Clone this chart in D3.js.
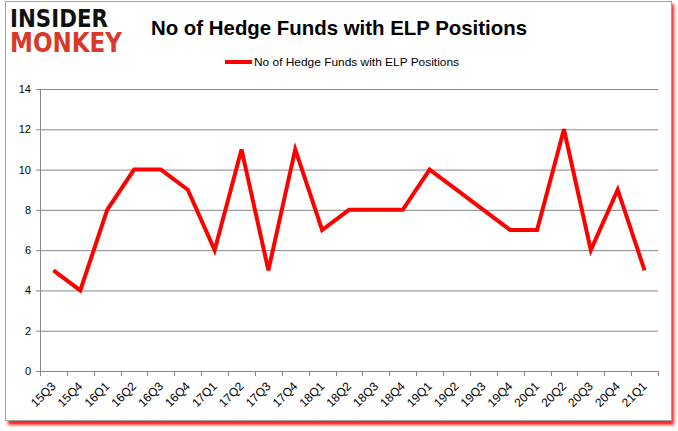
<!DOCTYPE html>
<html>
<head>
<meta charset="utf-8">
<script src="https://cdn.jsdelivr.net/npm/d3@7"></script>
<style>
  body { margin: 0; background: #fff; }
  svg text { font-family: "Liberation Sans", Arial, sans-serif; }
</style>
</head>
<body>
<div id="chart"></div>
<script>
const quarters = ["15Q3", "15Q4", "16Q1", "16Q2", "16Q3", "16Q4", "17Q1", "17Q2", "17Q3", "17Q4",
  "18Q1", "18Q2", "18Q3", "18Q4", "19Q1", "19Q2", "19Q3", "19Q4", "20Q1", "20Q2", "20Q3", "20Q4", "21Q1"];
const fundCounts = [5, 4, 8, 10, 10, 9, 6, 11, 5, 11, 7, 8, 8, 8, 10, 9, 8, 7, 7, 12, 6, 9, 5];
const yTicks = [0, 2, 4, 6, 8, 10, 12, 14];
const seriesName = "No of Hedge Funds with ELP Positions";

const width = 678, height = 431;
const plot = { left: 40, right: 658, top: 89, bottom: 371 };

const svg = d3.select('#chart').append('svg')
  .attr('width', width)
  .attr('height', height);

// frame with red drop shadow
const defs = svg.append('defs');
defs.append('filter').attr('id', 'blur')
  .append('feGaussianBlur').attr('stdDeviation', 1.5);

svg.append('rect')
  .attr('x', 8).attr('y', 4).attr('width', 666).attr('height', 421)
  .attr('fill', '#ff2020')
  .attr('filter', 'url(#blur)');
svg.append('rect')
  .attr('x', 5.5).attr('y', 1.5).attr('width', 666).attr('height', 419)
  .attr('fill', '#fff')
  .attr('stroke', '#a0a0a0');

// logo, two lines in one text block
const logo = svg.append('text')
  .style('font-family', '"DejaVu Sans"').style('font-weight', 'bold');
logo.append('tspan')
  .attr('x', 10).attr('y', 27)
  .attr('textLength', 98).attr('lengthAdjust', 'spacingAndGlyphs')
  .style('font-size', '25px')
  .attr('fill', '#111')
  .text('INSIDER');
logo.append('tspan')
  .attr('x', 10).attr('y', 52)
  .attr('textLength', 112).attr('lengthAdjust', 'spacingAndGlyphs')
  .style('font-size', '27px')
  .attr('fill', '#d8392b')
  .text('MONKEY');

// title
svg.append('text')
  .attr('x', 339).attr('y', 35)
  .attr('text-anchor', 'middle')
  .attr('textLength', 376).attr('lengthAdjust', 'spacingAndGlyphs')
  .style('font-weight', 'bold').style('font-size', '21px')
  .attr('fill', '#000')
  .text(seriesName);

// legend
svg.append('line')
  .attr('x1', 225).attr('x2', 252).attr('y1', 62).attr('y2', 62)
  .attr('stroke', '#ff0000').attr('stroke-width', 4);
svg.append('text')
  .attr('x', 254).attr('y', 66)
  .attr('textLength', 205).attr('lengthAdjust', 'spacingAndGlyphs')
  .style('font-size', '11px')
  .attr('fill', '#000')
  .text(seriesName);

const x = d3.scaleBand().domain(quarters).range([plot.left, plot.right]).padding(0);
const y = d3.scaleLinear().domain([0, 14]).range([plot.bottom, plot.top]);

// gridlines
svg.append('g')
  .selectAll('line').data(yTicks).enter().append('line')
  .attr('x1', plot.left - 4).attr('x2', plot.right)
  .attr('y1', d => y(d) + 0.5).attr('y2', d => y(d) + 0.5)
  .attr('stroke', '#868686');

// y axis line
svg.append('line')
  .attr('x1', plot.left + 0.5).attr('x2', plot.left + 0.5)
  .attr('y1', plot.top).attr('y2', plot.bottom)
  .attr('stroke', '#868686');

// y labels
svg.append('g')
  .selectAll('text').data(yTicks).enter().append('text')
  .attr('x', plot.left - 9).attr('y', d => y(d) + 4)
  .attr('text-anchor', 'end')
  .style('font-size', '11px')
  .attr('fill', '#000')
  .text(d => d);

// x ticks at band edges
const edges = quarters.map(q => x(q)).concat([plot.right]);
svg.append('g')
  .selectAll('line').data(edges).enter().append('line')
  .attr('x1', d => Math.round(d) + 0.5).attr('x2', d => Math.round(d) + 0.5)
  .attr('y1', plot.bottom).attr('y2', plot.bottom + 5)
  .attr('stroke', '#868686');

// x labels
svg.append('g')
  .selectAll('text').data(quarters).enter().append('text')
  .attr('transform', d => `translate(${x(d) + x.bandwidth() / 2 + 3},${plot.bottom + 16}) rotate(-45)`)
  .attr('text-anchor', 'end')
  .style('font-size', '12px')
  .attr('fill', '#000')
  .text(d => d);

// series line
const line = d3.line()
  .x((d, i) => x(quarters[i]) + x.bandwidth() / 2)
  .y(d => y(d));

svg.append('path')
  .datum(fundCounts)
  .attr('fill', 'none')
  .attr('stroke', '#ff0000')
  .attr('stroke-width', 4)
  .attr('stroke-linejoin', 'miter')
  .attr('d', line);
</script>
</body>
</html>
